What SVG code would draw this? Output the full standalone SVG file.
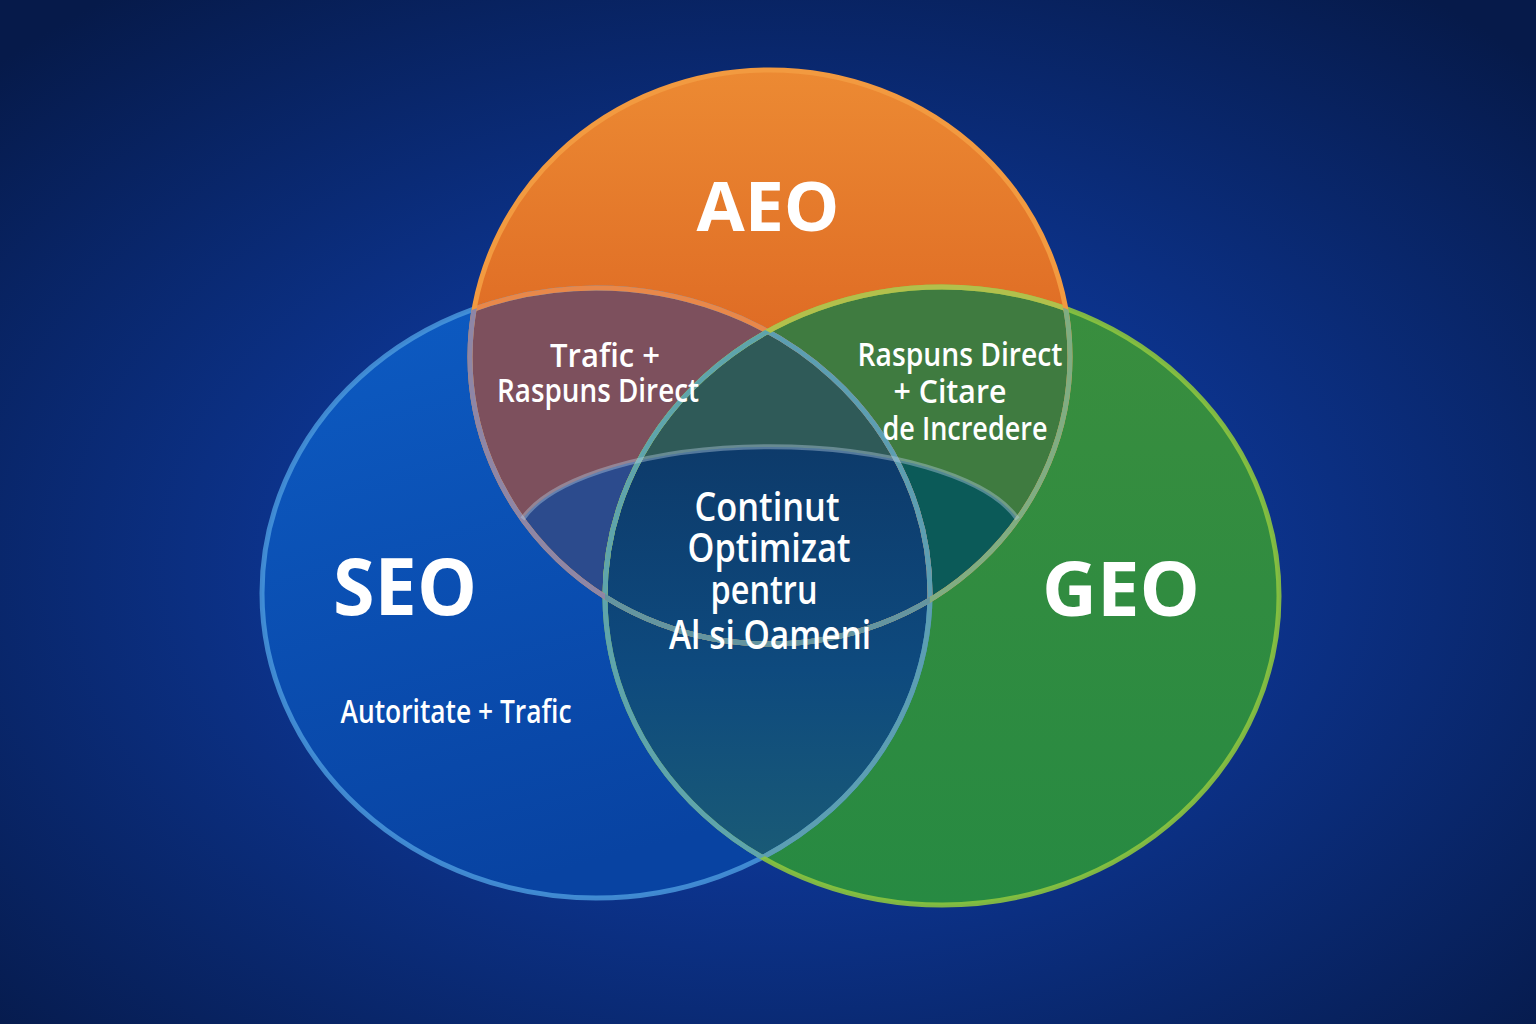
<svg xmlns="http://www.w3.org/2000/svg" width="1536" height="1024" viewBox="0 0 1536 1024">
  <defs>
    <radialGradient id="bg" cx="50%" cy="55%" r="70%">
      <stop offset="0" stop-color="#1549b6"/>
      <stop offset="0.45" stop-color="#0c338c"/>
      <stop offset="1" stop-color="#061a4a"/>
    </radialGradient>
    <linearGradient id="gAEO" x1="0" y1="0" x2="0" y2="1">
      <stop offset="0" stop-color="#ec8a33"/>
      <stop offset="0.7" stop-color="#d85c1d"/>
      <stop offset="1" stop-color="#d0551c"/>
    </linearGradient>
    <linearGradient id="gSEO" x1="0" y1="0" x2="0.3" y2="1">
      <stop offset="0" stop-color="#0d5cc4"/>
      <stop offset="1" stop-color="#0843a2"/>
    </linearGradient>
    <linearGradient id="gGEO" x1="0" y1="0" x2="0" y2="1">
      <stop offset="0" stop-color="#3a8e3e"/>
      <stop offset="1" stop-color="#278a42"/>
    </linearGradient>
    <linearGradient id="gLens" gradientUnits="userSpaceOnUse" x1="0" y1="440" x2="0" y2="900">
      <stop offset="0" stop-color="#0d3a6a"/>
      <stop offset="0.5" stop-color="#0e4a7e"/>
      <stop offset="1" stop-color="#1c5e74"/>
    </linearGradient>
    <linearGradient id="gLine" x1="0" y1="0" x2="1" y2="0">
      <stop offset="0" stop-color="#9cc8ee" stop-opacity="0"/>
      <stop offset="0.5" stop-color="#a8d0f0" stop-opacity="0.9"/>
      <stop offset="1" stop-color="#9cc8ee" stop-opacity="0"/>
    </linearGradient>
    <clipPath id="cSEO"><ellipse cx="596" cy="593" rx="334" ry="305"/></clipPath>
    <clipPath id="cGEO"><ellipse cx="942" cy="596" rx="337" ry="309"/></clipPath>
    <clipPath id="cAEO"><ellipse cx="770" cy="357" rx="300" ry="287"/></clipPath>
    <clipPath id="cEye"><ellipse cx="770" cy="544" rx="256" ry="97"/></clipPath>
    <style>
      .lbl{font-family:"Open Sans","Liberation Sans",sans-serif;fill:#ffffff;text-anchor:middle}
      .big{font-weight:700}
      .mid{font-weight:600}
      .ol{fill:none;stroke-width:5}
    </style>
  </defs>

  <rect width="1536" height="1024" fill="url(#bg)"/>

  <!-- fills -->
  <g id="fills">
    <ellipse cx="596" cy="593" rx="334" ry="305" fill="url(#gSEO)"/>
    <ellipse cx="942" cy="596" rx="337" ry="309" fill="url(#gGEO)"/>
    <g clip-path="url(#cSEO)">
      <ellipse cx="942" cy="596" rx="337" ry="309" fill="url(#gLens)"/>
    </g>
    <ellipse cx="770" cy="357" rx="300" ry="287" fill="url(#gAEO)"/>
    <g clip-path="url(#cAEO)">
      <ellipse cx="596" cy="593" rx="334" ry="305" fill="#7d505d"/>
      <ellipse cx="942" cy="596" rx="337" ry="309" fill="#3f7b40"/>
      <g clip-path="url(#cSEO)">
        <ellipse cx="942" cy="596" rx="337" ry="309" fill="#2f5a58"/>
      </g>
      <g clip-path="url(#cEye)">
        <rect x="480" y="430" width="580" height="230" fill="#2c4b8d"/>
        <ellipse cx="942" cy="596" rx="337" ry="309" fill="#0b5a58"/>
        <g clip-path="url(#cSEO)">
          <ellipse cx="942" cy="596" rx="337" ry="309" fill="url(#gLens)"/>
        </g>
      </g>
    </g>
  </g>

  <!-- outlines -->
  <g id="SEO">
    <ellipse class="ol" cx="596" cy="593" rx="334" ry="305" stroke="#4a98dc" stroke-opacity="0.85"/>
    <g clip-path="url(#cAEO)">
      <ellipse class="ol" cx="596" cy="593" rx="334" ry="305" stroke="#e8884a"/>
    </g>
    <g clip-path="url(#cGEO)">
      <ellipse class="ol" cx="596" cy="593" rx="334" ry="305" stroke="#5c9eb2"/>
    </g>
    <text class="lbl big" x="405" y="615" font-size="78" textLength="144" lengthAdjust="spacingAndGlyphs">SEO</text>
    <text class="lbl mid" x="456" y="723" font-size="33" textLength="231" lengthAdjust="spacingAndGlyphs">Autoritate + Trafic</text>
  </g>
  <g id="GEO">
    <ellipse class="ol" cx="942" cy="596" rx="337" ry="309" stroke="#8cc43f" stroke-opacity="0.9"/>
    <g clip-path="url(#cAEO)">
      <ellipse class="ol" cx="942" cy="596" rx="337" ry="309" stroke="#b2c04c"/>
    </g>
    <g clip-path="url(#cSEO)">
      <ellipse class="ol" cx="942" cy="596" rx="337" ry="309" stroke="#5ea4ac"/>
    </g>
    <text class="lbl big" x="1121" y="616" font-size="76" textLength="158" lengthAdjust="spacingAndGlyphs">GEO</text>
  </g>
  <g id="AEO">
    <ellipse class="ol" cx="770" cy="357" rx="300" ry="287" stroke="#f29a40"/>
    <g clip-path="url(#cSEO)">
      <ellipse class="ol" cx="770" cy="357" rx="300" ry="287" stroke="#8e86a6"/>
    </g>
    <g clip-path="url(#cGEO)">
      <ellipse class="ol" cx="770" cy="357" rx="300" ry="287" stroke="#7fad82"/>
      <g clip-path="url(#cSEO)">
        <ellipse class="ol" cx="770" cy="357" rx="300" ry="287" stroke="#5e8fa8" stroke-opacity="0.8"/>
      </g>
    </g>
    <text class="lbl big" x="768" y="231" font-size="68" textLength="143" lengthAdjust="spacingAndGlyphs">AEO</text>
  </g>
  <g id="connectors">
    <path d="M522.5,519 A256,97 0 0 1 1017.5,519" fill="none" stroke="#b4cce0" stroke-opacity="0.42" stroke-width="5"/>
    <line x1="670" y1="676" x2="878" y2="676" stroke="url(#gLine)" stroke-width="2"/>
  </g>

  <g id="SEO-AEO">
    <text class="lbl mid" x="605" y="367" font-size="32" textLength="110" lengthAdjust="spacingAndGlyphs">Trafic +</text>
    <text class="lbl mid" x="598" y="402" font-size="32" textLength="202" lengthAdjust="spacingAndGlyphs">Raspuns Direct</text>
  </g>
  <g id="AEO-GEO">
    <text class="lbl mid" x="960" y="366" font-size="32" textLength="205" lengthAdjust="spacingAndGlyphs">Raspuns Direct</text>
    <text class="lbl mid" x="950" y="403" font-size="32" textLength="113" lengthAdjust="spacingAndGlyphs">+ Citare</text>
    <text class="lbl mid" x="965" y="440" font-size="32" textLength="165" lengthAdjust="spacingAndGlyphs">de Incredere</text>
  </g>
  <g id="center">
    <text class="lbl mid" x="767" y="521" font-size="39" textLength="145" lengthAdjust="spacingAndGlyphs">Continut</text>
    <text class="lbl mid" x="769" y="562" font-size="39" textLength="163" lengthAdjust="spacingAndGlyphs">Optimizat</text>
    <text class="lbl mid" x="764" y="604" font-size="39" textLength="107" lengthAdjust="spacingAndGlyphs">pentru</text>
    <text class="lbl mid" x="770" y="649" font-size="39" textLength="202" lengthAdjust="spacingAndGlyphs">Al si Oameni</text>
  </g>
</svg>
